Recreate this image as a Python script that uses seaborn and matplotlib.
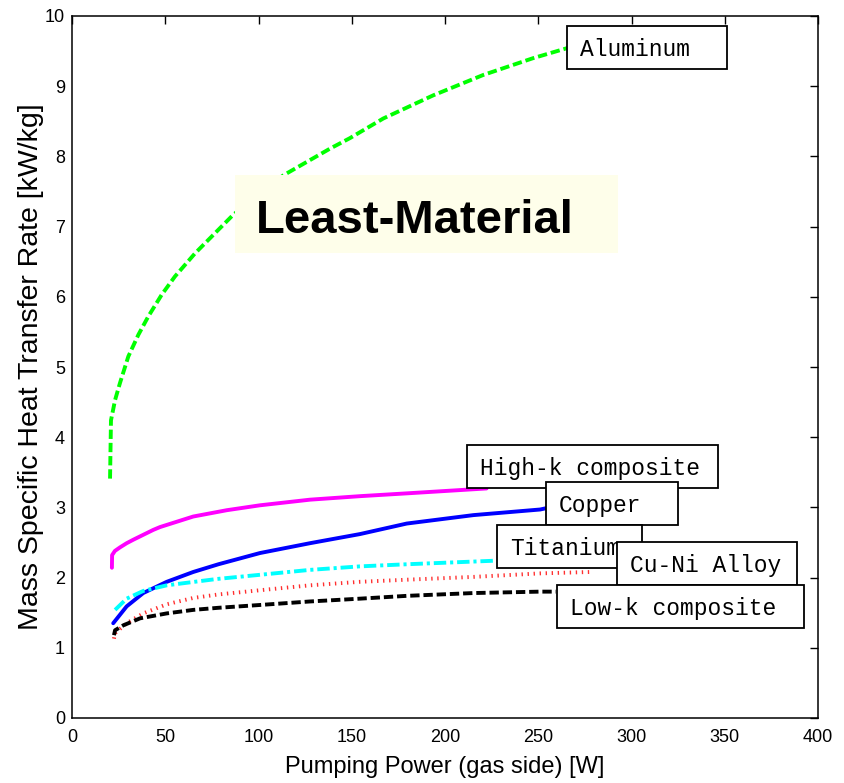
import numpy as np
import pandas as pd
import matplotlib
matplotlib.use("Agg")
import matplotlib.pyplot as plt
from matplotlib.patches import Rectangle
import seaborn as sns

# ---------------- data ----------------
al_x = [20.4, 20.9, 23.1, 25.7, 30.2, 35.6, 40.9, 48.1, 55.2, 66.0, 86.5, 113.3, 138.3, 149.0, 166.9, 193.7, 220.5, 247.3, 265.2, 272.0]
al_y = [3.41, 4.24, 4.53, 4.77, 5.15, 5.46, 5.72, 6.03, 6.29, 6.62, 7.17, 7.73, 8.11, 8.26, 8.54, 8.87, 9.16, 9.40, 9.54, 9.58]

hk_x = [21.4, 21.5, 23.0, 25.7, 29.3, 32.9, 43.6, 47.2, 65.0, 83.0, 100.8, 127.6, 154.4, 179.5, 222.3]
hk_y = [2.14, 2.32, 2.38, 2.43, 2.49, 2.54, 2.68, 2.72, 2.87, 2.96, 3.03, 3.11, 3.16, 3.20, 3.27]

cu_x = [22.1, 29.3, 38.2, 50.8, 65.0, 78.5, 100.8, 127.6, 154.4, 179.5, 215.2, 251.0, 254.5]
cu_y = [1.35, 1.59, 1.78, 1.94, 2.08, 2.19, 2.35, 2.49, 2.62, 2.77, 2.89, 2.97, 2.99]

ti_x = [23.1, 29.3, 38.2, 50.8, 77.6, 100.8, 127.6, 154.4, 179.5, 226.0]
ti_y = [1.54, 1.70, 1.81, 1.89, 1.98, 2.04, 2.11, 2.16, 2.19, 2.24]

cuni_x = [22.5, 23.1, 29.3, 38.2, 50.8, 65.0, 78.5, 100.8, 127.6, 154.4, 179.5, 215.2, 251.0, 278.0]
cuni_y = [1.13, 1.21, 1.35, 1.49, 1.62, 1.71, 1.76, 1.82, 1.89, 1.94, 1.97, 2.01, 2.06, 2.08]

lk_x = [22.5, 23.1, 27.5, 36.5, 50.8, 65.0, 78.5, 100.8, 127.6, 154.4, 179.5, 215.2, 251.0, 259.5]
lk_y = [1.18, 1.25, 1.32, 1.42, 1.49, 1.54, 1.57, 1.61, 1.66, 1.70, 1.74, 1.78, 1.80, 1.80]

labels = ["Aluminum", "High-k composite", "Copper", "Titanium", "Cu-Ni Alloy", "Low-k composite"]
x_ticks = [0, 50, 100, 150, 200, 250, 300, 350, 400]
y_ticks = [0, 1, 2, 3, 4, 5, 6, 7, 8, 9, 10]

x_label = "Pumping Power (gas side) [W]"
y_label = "Mass Specific Heat Transfer Rate [kW/kg]"
title_box = "Least-Material"

# ---------------- figure ----------------
sns.set_style("white")
plt.rcParams["font.family"] = ["Liberation Sans", "DejaVu Sans"]
plt.rcParams["text.color"] = "black"
plt.rcParams["axes.labelcolor"] = "black"
plt.rcParams["xtick.color"] = "black"
plt.rcParams["ytick.color"] = "black"

fig = plt.figure(figsize=(8.44, 7.83), dpi=100)
ax = fig.add_axes([72 / 844, 65 / 783, 746 / 844, 702 / 783])

series = [
    (al_x, al_y, "#00FF00", (0, (2.4, 1.0))),
    (hk_x, hk_y, "#FF00FF", "-"),
    (cu_x, cu_y, "#0000FF", "-"),
    (ti_x, ti_y, "#00FFFF", (0, (3.2, 1.0, 0.8, 1.0))),
    (cuni_x, cuni_y, "#FF3030", (0, (0.35, 1.2))),
    (lk_x, lk_y, "#000000", (0, (2.4, 1.0))),
]
for xs, ys, col, ls in series:
    df = pd.DataFrame({"x": xs, "y": ys})
    sns.lineplot(data=df, x="x", y="y", ax=ax, color=col, linewidth=2.8,
                 linestyle=ls, sort=False, estimator=None, zorder=2)

ax.set_xlim(0, 400)
ax.set_ylim(0, 10)
ax.set_xticks(x_ticks)
ax.set_yticks(y_ticks)
ax.set_xticklabels([str(v) for v in x_ticks], fontsize=13, color="black")
ax.set_yticklabels([str(v) for v in y_ticks], fontsize=13, color="black")
ax.tick_params(direction="in", length=6, width=1.0, top=True, right=True,
               labeltop=False, labelright=False, pad=5, colors="black")
ax.tick_params(axis="x", pad=8)
for sp in ax.spines.values():
    sp.set_visible(True)
    sp.set_color("black")
    sp.set_linewidth(1.1)

ax.set_xlabel(x_label, fontsize=17, labelpad=7, color="black")
ax.set_ylabel(y_label, fontsize=20.5, labelpad=1, color="black")

# "Least-Material" highlighted caption
ax.add_patch(Rectangle((87.4, 6.62), 205.4, 1.12, facecolor="#FEFEEA", edgecolor="none", zorder=3))
ax.text(98.5, 6.91, title_box, fontsize=34, fontweight="bold", ha="left", va="baseline",
        color="black", zorder=3.5)

# material label boxes: (left, bottom, width-in-pixels)
px_x = 400 / 746.0
px_y = 10 / 702.0
boxes = [
    (265.4, 9.245, 160),
    (211.8, 3.276, 251),
    (254.2, 2.749, 132),
    (227.9, 2.137, 145),
    (292.2, 1.895, 180),
    (260.1, 1.282, 247),
]
for i, (lab, (bx, by, bw)) in enumerate(zip(labels, boxes)):
    z = 3 + i
    ax.add_patch(Rectangle((bx, by), bw * px_x, 43 * px_y, facecolor="white",
                           edgecolor="black", linewidth=1.3, zorder=z))
    ax.text(bx + 13 * px_x, by + 13 * px_y, lab, family=["Liberation Mono", "DejaVu Sans Mono"],
            fontsize=16.5, ha="left", va="baseline", color="black", zorder=z + 0.5)

fig.savefig("out.png", dpi=100)
